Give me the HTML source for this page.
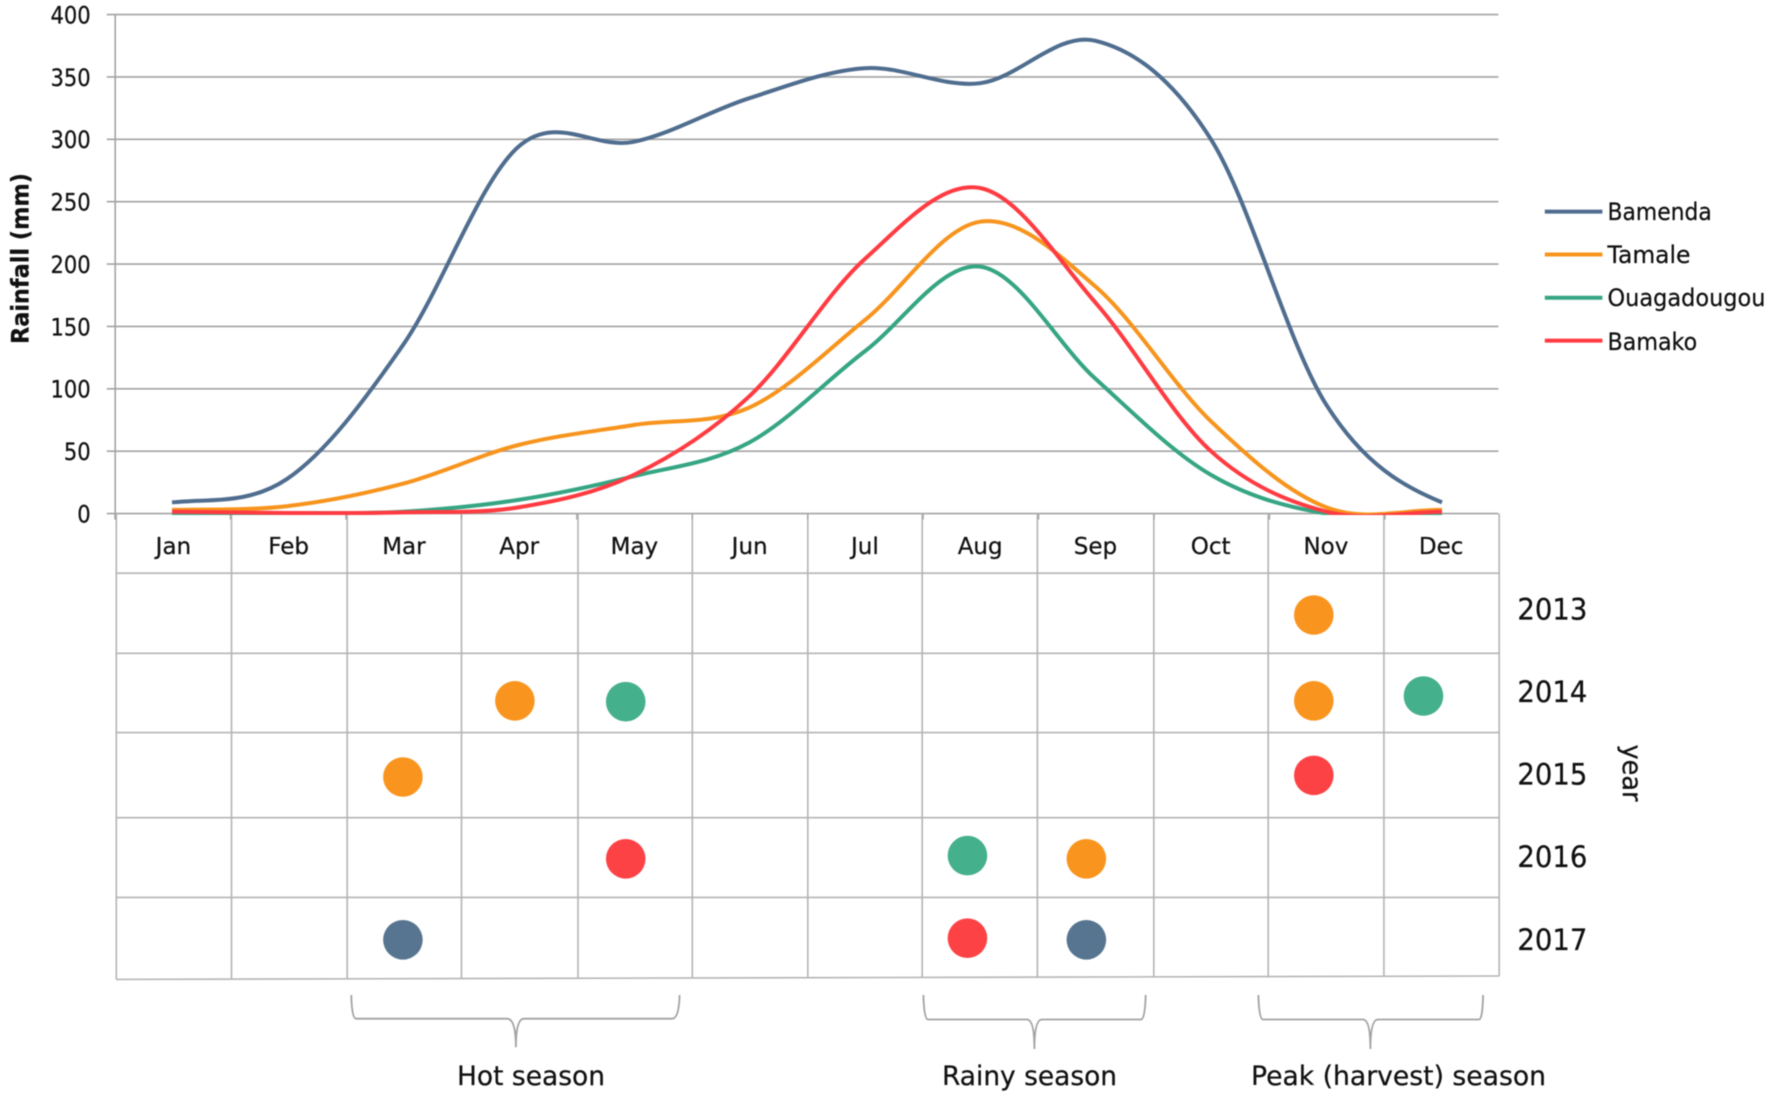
<!DOCTYPE html>
<html lang="en">
<head>
<meta charset="utf-8">
<title>Rainfall and event calendar</title>
<style>
  html, body { margin: 0; padding: 0; background: #fff; }
  svg { display: block; filter: blur(0.45px); }
  text { font-family: "DejaVu Sans", "Liberation Sans", sans-serif; fill: #111; stroke: #111; stroke-width: 0.25; }
  .tbl line { stroke: #b4b4b4; stroke-width: 1.6; }
  .brace { fill: none; stroke: #a2a2a2; stroke-width: 1.8; }
</style>
</head>
<body>
<svg id="chart" xmlns="http://www.w3.org/2000/svg" width="1772" height="1098" viewBox="0 0 1772 1098">
  <defs>
    <clipPath id="plot-clip"><rect x="100" y="0" width="1420" height="515"/></clipPath>
  </defs>
  <rect x="0" y="0" width="1772" height="1098" fill="#ffffff"/>

  <g id="grid-layer"></g>

  <g class="tbl">
    <line x1="116.3" y1="513.6" x2="116.3" y2="979.4"/>
    <line x1="231.5" y1="513.6" x2="231.5" y2="979.1"/>
    <line x1="347.2" y1="513.6" x2="347.2" y2="978.8"/>
    <line x1="461.5" y1="513.6" x2="461.5" y2="978.5"/>
    <line x1="578" y1="513.6" x2="578" y2="978.2"/>
    <line x1="692.3" y1="513.6" x2="692.3" y2="977.9"/>
    <line x1="807.8" y1="513.6" x2="807.8" y2="977.6"/>
    <line x1="922.2" y1="513.6" x2="922.2" y2="977.3"/>
    <line x1="1037.4" y1="513.6" x2="1037.4" y2="977"/>
    <line x1="1153.8" y1="513.6" x2="1153.8" y2="976.7"/>
    <line x1="1268.2" y1="513.6" x2="1268.2" y2="976.4"/>
    <line x1="1383.9" y1="513.6" x2="1383.9" y2="976.2"/>
    <line x1="1499.2" y1="513.6" x2="1499.2" y2="976"/>
    <line x1="116.3" y1="573.2" x2="1499.2" y2="573.2"/>
    <line x1="116.3" y1="653.3" x2="1499.2" y2="653.3"/>
    <line x1="116.3" y1="732.6" x2="1499.2" y2="732.6"/>
    <line x1="116.3" y1="817.7" x2="1499.2" y2="817.7"/>
    <line x1="116.3" y1="897.4" x2="1499.2" y2="897.4"/>
    <line x1="116.3" y1="979.4" x2="1499.2" y2="976"/>
  </g>

  <g id="tick-layer"></g>
  <g id="series-layer" clip-path="url(#plot-clip)"></g>
  <g id="dot-layer"></g>
  <g id="label-layer"></g>

  <text transform="translate(28.7,258.5) rotate(-90)" text-anchor="middle" font-size="24" font-weight="700" textLength="171" lengthAdjust="spacingAndGlyphs">Rainfall (mm)</text>

  <g>
    <line x1="1544.8" y1="211.6" x2="1602.4" y2="211.6" stroke="#4f6d8f" stroke-width="4"/>
    <text x="1607.5" y="220" font-size="24" textLength="104.3" lengthAdjust="spacingAndGlyphs">Bamenda</text>
    <line x1="1544.8" y1="254.5" x2="1602.4" y2="254.5" stroke="#f7941d" stroke-width="4"/>
    <text x="1607.5" y="263" font-size="24" textLength="83" lengthAdjust="spacingAndGlyphs">Tamale</text>
    <line x1="1544.8" y1="297.7" x2="1602.4" y2="297.7" stroke="#35a583" stroke-width="4"/>
    <text x="1607.5" y="306" font-size="24" textLength="158" lengthAdjust="spacingAndGlyphs">Ouagadougou</text>
    <line x1="1544.8" y1="340.6" x2="1602.4" y2="340.6" stroke="#ff3b41" stroke-width="4"/>
    <text x="1607.5" y="350" font-size="24" textLength="89.7" lengthAdjust="spacingAndGlyphs">Bamako</text>
  </g>

  <text transform="translate(1623,773) rotate(90)" text-anchor="middle" font-size="27" textLength="57" lengthAdjust="spacingAndGlyphs">year</text>

  <path class="brace" d="M351.3,995 Q351.8,1018.7 356,1018.7 H507 Q515.9,1018.7 515.9,1047.3 Q515.9,1018.7 524,1018.7 H672 Q679,1018.7 679.6,995"/>
  <path class="brace" d="M923.4,995 Q924,1019.5 928,1019.5 H1027 Q1034.4,1019.5 1034.4,1049 Q1034.4,1019.5 1042,1019.5 H1141 Q1145,1019.5 1145.7,995"/>
  <path class="brace" d="M1258.4,995 Q1259,1019.5 1263,1019.5 H1363 Q1370.4,1019.5 1370.4,1049 Q1370.4,1019.5 1378,1019.5 H1479 Q1482.5,1019.5 1483.1,995"/>

  <text x="457" y="1085" font-size="27" textLength="148" lengthAdjust="spacingAndGlyphs">Hot season</text>
  <text x="942" y="1085" font-size="27" textLength="175" lengthAdjust="spacingAndGlyphs">Rainy season</text>
  <text x="1251" y="1085" font-size="27" textLength="295" lengthAdjust="spacingAndGlyphs">Peak (harvest) season</text>
</svg>

<script>
const months = ['Jan','Feb','Mar','Apr','May','Jun','Jul','Aug','Sep','Oct','Nov','Dec'];
const yTickValues = [0,50,100,150,200,250,300,350,400];
const yearLabels = [2013,2014,2015,2016,2017];

const bamenda     = [9, 28, 135, 294, 298, 333, 357, 345, 379, 300, 87, 9];
const tamale      = [3, 6, 24, 55, 71, 85, 155, 234, 182, 74, 5, 3];
const ouagadougou = [0.5, 0.5, 1.5, 11, 30, 57, 130, 198, 108, 31, 0, 0];
const bamako      = [1.5, 0.5, 1, 5, 31, 94, 204, 261, 169, 50, 1.5, 1.5];

const dotCity = ['Tamale','Tamale','Ouagadougou','Tamale','Ouagadougou','Tamale','Bamako','Bamako','Ouagadougou','Tamale','Bamenda','Bamako','Bamenda'];
const dotMonth = [9.89, 2.97, 3.93, 9.89, 10.84, 2.0, 9.89, 3.93, 6.89, 7.92, 2.0, 6.89, 7.92];
const dotYear = [2013.0, 2014.06, 2014.07, 2014.06, 2014.0, 2015.0, 2014.98, 2016.01, 2015.97, 2016.01, 2017.01, 2016.99, 2017.01];

const NS = 'http://www.w3.org/2000/svg';
const x = function (m) { return 172 + 115.45 * m; };
const monthLabelX = function (m) { return 173.4 + 115.25 * m; };
const y = function (v) { return 513.6 - 1.2475 * v; };
const yearY = function (v) { return 615 + 81 * (v - 2013); };
const yearLabelY = function (v) { return 619.4 + 82.6 * (v - 2013); };

function smoothPath(vals) {
  let d = 'M' + x(0).toFixed(1) + ',' + y(vals[0]).toFixed(1);
  for (let i = 0; i < vals.length - 1; i++) {
    const v0 = vals[Math.max(i - 1, 0)];
    const v1 = vals[i];
    const v2 = vals[i + 1];
    const v3 = vals[Math.min(i + 2, vals.length - 1)];
    const c1x = x(i + 1 / 3);
    const c1y = y(v1 + (v2 - v0) / 6);
    const c2x = x(i + 2 / 3);
    const c2y = y(v2 - (v3 - v1) / 6);
    d += ' C' + c1x.toFixed(1) + ',' + c1y.toFixed(1) + ' ' + c2x.toFixed(1) + ',' + c2y.toFixed(1) + ' ' + x(i + 1).toFixed(1) + ',' + y(v2).toFixed(1);
  }
  return d;
}

const gridLayer = document.getElementById('grid-layer');
const tickLayer = document.getElementById('tick-layer');
const seriesLayer = document.getElementById('series-layer');
const dotLayer = document.getElementById('dot-layer');
const labelLayer = document.getElementById('label-layer');

yTickValues.forEach(function (v) {
  const g = document.createElementNS(NS, 'line');
  
  
  g.setAttribute('x1', 106.8);
  g.setAttribute('x2', 1498.4);
  g.setAttribute('y1', y(v));
  g.setAttribute('y2', y(v));
  g.setAttribute('stroke', '#a3a3a3');
  g.setAttribute('stroke-width', '1.6');
  gridLayer.appendChild(g);

  const t = document.createElementNS(NS, 'text');
  
  
  t.setAttribute('x', 90.7);
  t.setAttribute('y', y(v) + 8.8);
  t.setAttribute('text-anchor', 'end');
  t.setAttribute('font-size', '24');
  t.setAttribute('textLength', String(v).length * 13.4);
  t.setAttribute('lengthAdjust', 'spacingAndGlyphs');
  t.textContent = String(v);
  labelLayer.appendChild(t);
});

const yAxis = document.createElementNS(NS, 'line');


yAxis.setAttribute('x1', 115.2);
yAxis.setAttribute('x2', 115.2);
yAxis.setAttribute('y1', y(400));
yAxis.setAttribute('y2', y(0) + 6);
yAxis.setAttribute('stroke', '#a3a3a3');
yAxis.setAttribute('stroke-width', '1.6');
tickLayer.appendChild(yAxis);

months.forEach(function (m, i) {
  const tick = document.createElementNS(NS, 'line');
  
  
  tick.setAttribute('x1', x(i) - 57);
  tick.setAttribute('x2', x(i) - 57);
  tick.setAttribute('y1', y(0));
  tick.setAttribute('y2', y(0) + 6);
  tick.setAttribute('stroke', '#a3a3a3');
  tick.setAttribute('stroke-width', '1.3');
  tickLayer.appendChild(tick);

  const t = document.createElementNS(NS, 'text');
  
  
  t.setAttribute('x', monthLabelX(i));
  t.setAttribute('y', 554);
  t.setAttribute('text-anchor', 'middle');
  t.setAttribute('font-size', '23');
  t.textContent = m;
  labelLayer.appendChild(t);
});

yearLabels.forEach(function (yr) {
  const t = document.createElementNS(NS, 'text');
  
  
  t.setAttribute('x', 1517.4);
  t.setAttribute('y', yearLabelY(yr));
  t.setAttribute('font-size', '29');
  t.setAttribute('textLength', '70');
  t.setAttribute('lengthAdjust', 'spacingAndGlyphs');
  t.textContent = String(yr);
  labelLayer.appendChild(t);
});

const lineColor = { Bamenda: '#4f6d8f', Tamale: '#f7941d', Ouagadougou: '#35a583', Bamako: '#ff3b41' };
const dotColor = { Bamenda: '#577590', Tamale: '#f9951f', Ouagadougou: '#45b08c', Bamako: '#fd4245' };

function drawSeries(name, vals) {
  const p = document.createElementNS(NS, 'path');
  
  
  p.setAttribute('d', smoothPath(vals));
  p.setAttribute('fill', 'none');
  p.setAttribute('stroke', lineColor[name]);
  p.setAttribute('stroke-width', '4');
  p.setAttribute('stroke-linejoin', 'round');
  seriesLayer.appendChild(p);
}
drawSeries('Bamenda', bamenda);
drawSeries('Tamale', tamale);
drawSeries('Ouagadougou', ouagadougou);
drawSeries('Bamako', bamako);

dotCity.forEach(function (city, i) {
  const c = document.createElementNS(NS, 'circle');
  
  
  c.setAttribute('cx', x(dotMonth[i]));
  c.setAttribute('cy', yearY(dotYear[i]));
  c.setAttribute('r', '19.8');
  c.setAttribute('fill', dotColor[city]);
  dotLayer.appendChild(c);
});
</script>
</body>
</html>
